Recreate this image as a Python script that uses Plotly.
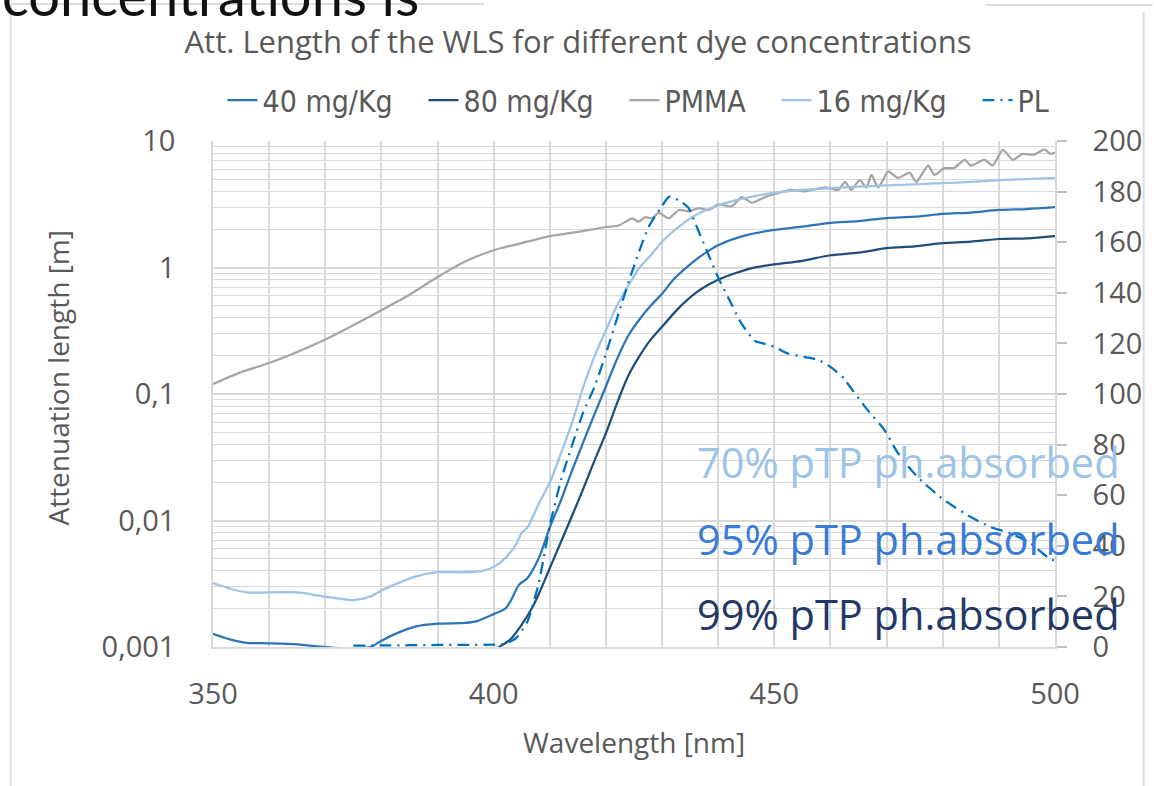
import plotly.graph_objects as go

# ---------------- data ----------------
wl_40 = [350, 353, 356, 360, 365, 370, 375, 378, 380, 383, 386, 390, 395, 397, 400, 402, 403,
         404.5, 406, 408, 410, 412, 414, 416, 418, 420, 422, 424, 426, 428, 430, 432, 434, 436,
         438, 440, 445, 450, 455, 460, 465, 470, 475, 480, 485, 490, 495, 500]
att_40 = [0.00127, 0.00115, 0.00108, 0.00107, 0.00105, 0.00100, 0.00097, 0.00100, 0.00112, 0.0013,
          0.00145, 0.00153, 0.00155, 0.0016, 0.00182, 0.0020, 0.0023, 0.0031, 0.0035, 0.0050,
          0.0088, 0.0145, 0.025, 0.042, 0.070, 0.115, 0.19, 0.29, 0.39, 0.50, 0.62, 0.80, 0.97,
          1.15, 1.33, 1.50, 1.80, 1.98, 2.10, 2.25, 2.33, 2.46, 2.52, 2.65, 2.72, 2.85, 2.90, 3.00]

wl_80 = [400, 401, 403, 405, 407, 408, 410, 412, 414, 416, 418, 420, 422, 424, 426, 428, 430,
         432, 434, 436, 438, 440, 443, 446, 450, 455, 460, 465, 470, 475, 480, 485, 490, 495, 500]
att_80 = [0.00092, 0.0010, 0.00115, 0.0015, 0.0021, 0.0026, 0.0042, 0.0068, 0.011, 0.018, 0.030,
          0.049, 0.085, 0.14, 0.20, 0.27, 0.34, 0.43, 0.53, 0.63, 0.72, 0.80, 0.90, 0.99, 1.06,
          1.13, 1.25, 1.31, 1.42, 1.47, 1.56, 1.60, 1.68, 1.70, 1.77]

wl_pmma = [350, 355, 360, 365, 370, 375, 380, 385, 390, 395, 400, 405, 410, 415, 420, 422.3,
           424.7, 425.8, 427, 428.2, 429.4, 431.2, 433, 434.8, 436.5, 438.3, 440, 442.4, 444.2,
           446, 448.3, 450, 453, 455.4, 459, 461.4, 462.6, 463.7, 465.2, 466.4, 467.3, 468.5,
           470.3, 472, 474.1, 475.3, 477.4, 478.5, 480.3, 482, 483.9, 485, 487.4, 488.9, 490.7,
           492.5, 494.2, 496.3, 498.1, 499.2, 500]
att_pmma = [0.12, 0.149, 0.176, 0.215, 0.27, 0.35, 0.46, 0.61, 0.84, 1.12, 1.37, 1.56, 1.77, 1.91,
            2.09, 2.15, 2.45, 2.3, 2.5, 2.45, 2.7, 2.45, 2.85, 2.78, 2.95, 2.85, 3.15, 3.05, 3.6,
            3.25, 3.6, 3.8, 4.1, 4.0, 4.3, 4.1, 4.75, 4.1, 4.9, 4.3, 5.4, 4.3, 5.75, 5.1, 5.6,
            4.75, 6.4, 5.4, 6.1, 6.1, 7.1, 6.4, 7.1, 6.4, 8.5, 7.1, 7.9, 7.8, 8.6, 7.9, 8.1]

wl_16 = [350, 353, 356, 360, 365, 370, 375, 378, 380, 383, 386, 390, 395, 398, 400, 402, 404,
         405, 406, 408, 410, 412, 414, 416, 418, 420, 422, 424, 426, 428, 430, 433, 436, 440,
         445, 450, 455, 460, 465, 470, 475, 480, 485, 490, 495, 500]
att_16 = [0.0032, 0.0029, 0.0027, 0.0027, 0.0027, 0.0025, 0.00235, 0.0025, 0.0028, 0.0032, 0.0036,
          0.0039, 0.0039, 0.0040, 0.0043, 0.0050, 0.0065, 0.0080, 0.0088, 0.0135, 0.020, 0.034,
          0.060, 0.115, 0.20, 0.32, 0.50, 0.72, 1.00, 1.25, 1.60, 2.10, 2.60, 3.10, 3.55, 3.90,
          4.10, 4.25, 4.35, 4.45, 4.55, 4.65, 4.75, 4.90, 5.00, 5.10]

wl_pl = [375, 380, 385, 390, 395, 400, 402, 404, 406, 408, 410, 412, 414, 416, 418, 420, 422,
         424.6, 427.6, 429.9, 431.3, 433.4, 434.7, 435.9, 437.9, 440, 441.8, 444.1, 446.5, 448,
         450, 452.4, 455.4, 457.8, 460, 462.5, 463.1, 466.6, 469.6, 472, 475.5, 480.3, 485,
         488.5, 492, 495.6, 499, 500]
pl_vals = [0.5, 0.6, 0.7, 0.8, 0.8, 0.9, 1.2, 3.5, 10, 25, 48, 66, 80, 93, 103, 116, 130, 148,
           166, 174, 178, 176, 173.6, 167.6, 157, 146, 138, 128, 121, 120, 118.6, 116, 114.6,
           113.5, 110.7, 106, 104, 93.7, 85.8, 76.7, 67.2, 58, 51.4, 47.4, 45, 41, 35, 34]

x_ticks = [350, 400, 450, 500]

# ---------------- layout helpers ----------------
W, H = 1154, 786
ML, MR, MT, MB = 213, 96, 141, 139
PW, PH = W - ML - MR, H - MT - MB


def px2x(px):
    return (px - ML) / PW


def px2y(py):
    return (H - MB - py) / PH


GRID = "#d9d9d9"
TXT = "#595959"
FONT = "Open Sans"
LEGFONT = "Liberation Sans Narrow, DejaVu Sans Condensed, Open Sans"
PAD = "\u00a0" * 3

fig = go.Figure()
fig.add_trace(go.Scatter(x=wl_40, y=att_40, name="40 mg/Kg" + PAD, mode="lines",
                         line=dict(color="#2E75B6", width=2.25, shape="spline", smoothing=0.8)))
fig.add_trace(go.Scatter(x=wl_80, y=att_80, name="80 mg/Kg" + PAD, mode="lines",
                         line=dict(color="#1F4E79", width=2.25, shape="spline", smoothing=0.8)))
fig.add_trace(go.Scatter(x=wl_pmma, y=att_pmma, name="PMMA" + PAD, mode="lines",
                         line=dict(color="#A5A5A5", width=2.25, shape="spline", smoothing=0.6)))
fig.add_trace(go.Scatter(x=wl_16, y=att_16, name="16 mg/Kg" + PAD, mode="lines",
                         line=dict(color="#9DC3E6", width=2.25, shape="spline", smoothing=0.8)))
fig.add_trace(go.Scatter(x=wl_pl, y=pl_vals, name="PL", mode="lines", yaxis="y2",
                         line=dict(color="#0070C0", width=2.25, dash="12px,6px,2px,6px",
                                   shape="spline", smoothing=0.6)))

fig.update_layout(
    width=W, height=H,
    margin=dict(l=ML, r=MR, t=MT, b=MB),
    paper_bgcolor="white", plot_bgcolor="white",
    separators=",.",
    font=dict(family=FONT, color=TXT, size=29),
    title=dict(text="Att. Length of the WLS for different dye concentrations",
               x=578 / W, xref="container", xanchor="center",
               y=1 - 42 / H, yref="container", yanchor="middle",
               font=dict(family=FONT, size=31, color=TXT)),
    legend=dict(orientation="h", x=px2x(640), xanchor="center", y=px2y(100), yanchor="middle",
                font=dict(family=LEGFONT, size=30, color=TXT), bgcolor="rgba(0,0,0,0)",
                itemwidth=30, tracegroupgap=0),
    showlegend=True,
    xaxis=dict(range=[350, 500], tickmode="array", tickvals=x_ticks,
               showgrid=True, gridcolor=GRID, gridwidth=1.5,
               minor=dict(dtick=10, tick0=350, showgrid=True, gridcolor=GRID, gridwidth=1.5),
               showline=True, linecolor=GRID, linewidth=1.5, zeroline=False,
               ticks="", ticklabelstandoff=20,
               tickfont=dict(family=FONT, size=29, color=TXT)),
    yaxis=dict(type="log", range=[-3, 1], tickmode="linear", tick0=0, dtick=1,
               showgrid=True, gridcolor=GRID, gridwidth=1.5,
               minor=dict(dtick="D1", showgrid=True, gridcolor=GRID, gridwidth=1.2),
               showline=True, linecolor=GRID, linewidth=1.5, zeroline=False,
               ticks="", ticklabelstandoff=30,
               tickfont=dict(family=FONT, size=29, color=TXT)),
    yaxis2=dict(overlaying="y", side="right", range=[0, 200], dtick=20, showgrid=False,
                ticks="outside", ticklen=10, tickcolor="#bfbfbf", tickwidth=1.5,
                showline=True, linecolor=GRID, linewidth=1.5, zeroline=False,
                ticklabelstandoff=20,
                tickfont=dict(family=FONT, size=29, color=TXT)),
)

ann = [
    dict(text="Attenuation length [m]", x=px2x(57), y=px2y(378), textangle=-90,
         font=dict(family=FONT, size=28, color=TXT)),
    dict(text="Wavelength [nm]", x=px2x(636), y=px2y(742),
         font=dict(family=FONT, size=28, color=TXT)),
    dict(text="70% pTP ph.absorbed", x=px2x(697), y=px2y(462), xanchor="left",
         font=dict(family=FONT, size=41.5, color="#9DC3E6")),
    dict(text="95% pTP ph.absorbed", x=px2x(697), y=px2y(539), xanchor="left",
         font=dict(family=FONT, size=41.5, color="#3A7BD5")),
    dict(text="99% pTP ph.absorbed", x=px2x(697), y=px2y(614), xanchor="left",
         font=dict(family=FONT, size=41.5, color="#1F3864")),
    dict(text="concentrations is", x=px2x(-1), y=px2y(-5), xanchor="left",
         font=dict(family="Lato", size=56, color="#111111")),
]
for a in ann:
    a.setdefault("xanchor", "center")
    fig.add_annotation(xref="paper", yref="paper", yanchor="middle", showarrow=False, **a)

frame = dict(type="line", xref="paper", yref="paper", line=dict(color="#dcdcdc", width=2))
fig.add_shape(x0=px2x(10), x1=px2x(10), y0=px2y(4), y1=px2y(790), **frame)
fig.add_shape(x0=px2x(10), x1=px2x(485), y0=px2y(4), y1=px2y(4), **frame)
fig.add_shape(x0=px2x(988), x1=px2x(1156), y0=px2y(5), y1=px2y(5), **frame)
fig.add_shape(x0=px2x(1147), x1=px2x(1147), y0=px2y(12), y1=px2y(790), **frame)

fig.write_html("out.html")
